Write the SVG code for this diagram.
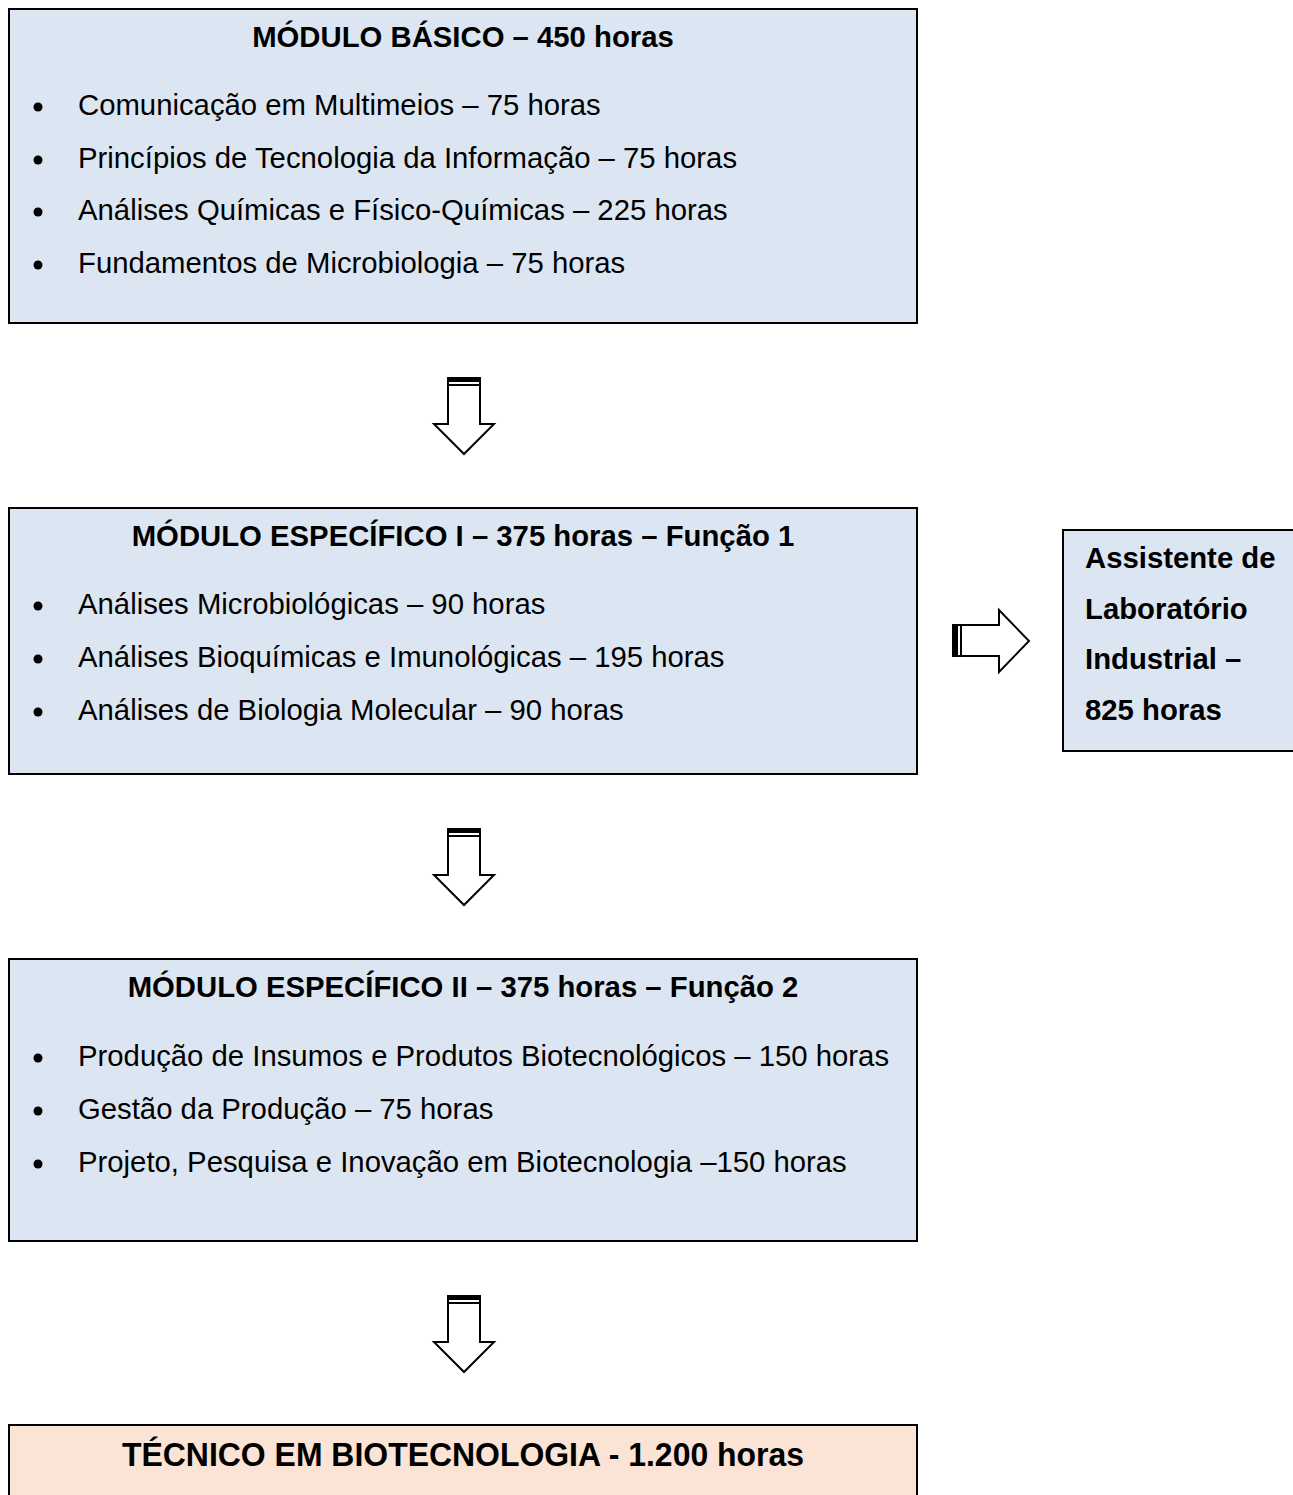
<svg xmlns="http://www.w3.org/2000/svg" width="1293" height="1495" viewBox="0 0 1293 1495">
<style>
.box{fill:#dce6f2;stroke:#000;stroke-width:2}
.peach{fill:#fbe4d5;stroke:#000;stroke-width:2}
.t{font-family:"Liberation Sans",Arial,sans-serif;font-weight:bold;font-size:29.3px;fill:#000}
.i{font-family:"Liberation Sans",Arial,sans-serif;font-size:29.3px;fill:#000}
.r{font-family:"Liberation Sans",Arial,sans-serif;font-weight:bold;font-size:29.3px;fill:#000}
.big{font-family:"Liberation Sans",Arial,sans-serif;font-weight:bold;font-size:33px;fill:#000}
.arr{fill:#fff;stroke:#000;stroke-width:2;stroke-linejoin:miter}
</style>
<defs>
<g id="down">
<path class="arr" d="M448,378 H480 V424 H494 L464,454 L434,424 H448 Z"/>
<rect x="448" y="377" width="32" height="5" fill="#000"/>
<rect x="448" y="384" width="32" height="2" fill="#000"/>
</g>
</defs>
<g id="n1">
<rect class="box" x="9" y="9" width="908" height="314"/>
<text class="t" x="463" y="47" text-anchor="middle">MÓDULO BÁSICO – 450 horas</text>
<circle cx="38" cy="107" r="4.5"/><text class="i" x="78" y="115">Comunicação em Multimeios – 75 horas</text>
<circle cx="38" cy="160" r="4.5"/><text class="i" x="78" y="168">Princípios de Tecnologia da Informação – 75 horas</text>
<circle cx="38" cy="212" r="4.5"/><text class="i" x="78" y="220">Análises Químicas e Físico-Químicas – 225 horas</text>
<circle cx="38" cy="265" r="4.5"/><text class="i" x="78" y="273">Fundamentos de Microbiologia – 75 horas</text>
</g>
<g id="n2">
<rect class="box" x="9" y="508" width="908" height="266"/>
<text class="t" x="463" y="546" text-anchor="middle">MÓDULO ESPECÍFICO I – 375 horas – Função 1</text>
<circle cx="38" cy="606" r="4.5"/><text class="i" x="78" y="614">Análises Microbiológicas – 90 horas</text>
<circle cx="38" cy="659" r="4.5"/><text class="i" x="78" y="667">Análises Bioquímicas e Imunológicas – 195 horas</text>
<circle cx="38" cy="712" r="4.5"/><text class="i" x="78" y="720">Análises de Biologia Molecular – 90 horas</text>
</g>
<g id="n3">
<rect class="box" x="9" y="959" width="908" height="282"/>
<text class="t" x="463" y="997" text-anchor="middle">MÓDULO ESPECÍFICO II – 375 horas – Função 2</text>
<circle cx="38" cy="1058" r="4.5"/><text class="i" x="78" y="1066">Produção de Insumos e Produtos Biotecnológicos – 150 horas</text>
<circle cx="38" cy="1111" r="4.5"/><text class="i" x="78" y="1119">Gestão da Produção – 75 horas</text>
<circle cx="38" cy="1164" r="4.5"/><text class="i" x="78" y="1172">Projeto, Pesquisa e Inovação em Biotecnologia –150 horas</text>
</g>
<g id="n4">
<rect class="peach" x="9" y="1425" width="908" height="80"/>
<text class="big" x="122" y="1466" textLength="682" lengthAdjust="spacingAndGlyphs">TÉCNICO EM BIOTECNOLOGIA - 1.200 horas</text>
</g>
<g id="n5">
<rect class="box" x="1063" y="530" width="240" height="221"/>
<text class="r" x="1085" y="568">Assistente de</text>
<text class="r" x="1085" y="619">Laboratório</text>
<text class="r" x="1085" y="669">Industrial –</text>
<text class="r" x="1085" y="720">825 horas</text>
</g>
<g id="connectors">
<use href="#down"/>
<use href="#down" transform="translate(0,451)"/>
<use href="#down" transform="translate(0,918)"/>
<g>
<path class="arr" d="M953,625 V656 H999 V672 L1029,641 L999,610 V625 Z"/>
<rect x="952" y="625" width="6" height="31" fill="#000"/>
<rect x="960" y="625" width="2" height="31" fill="#000"/>
</g>
</g>
</svg>
